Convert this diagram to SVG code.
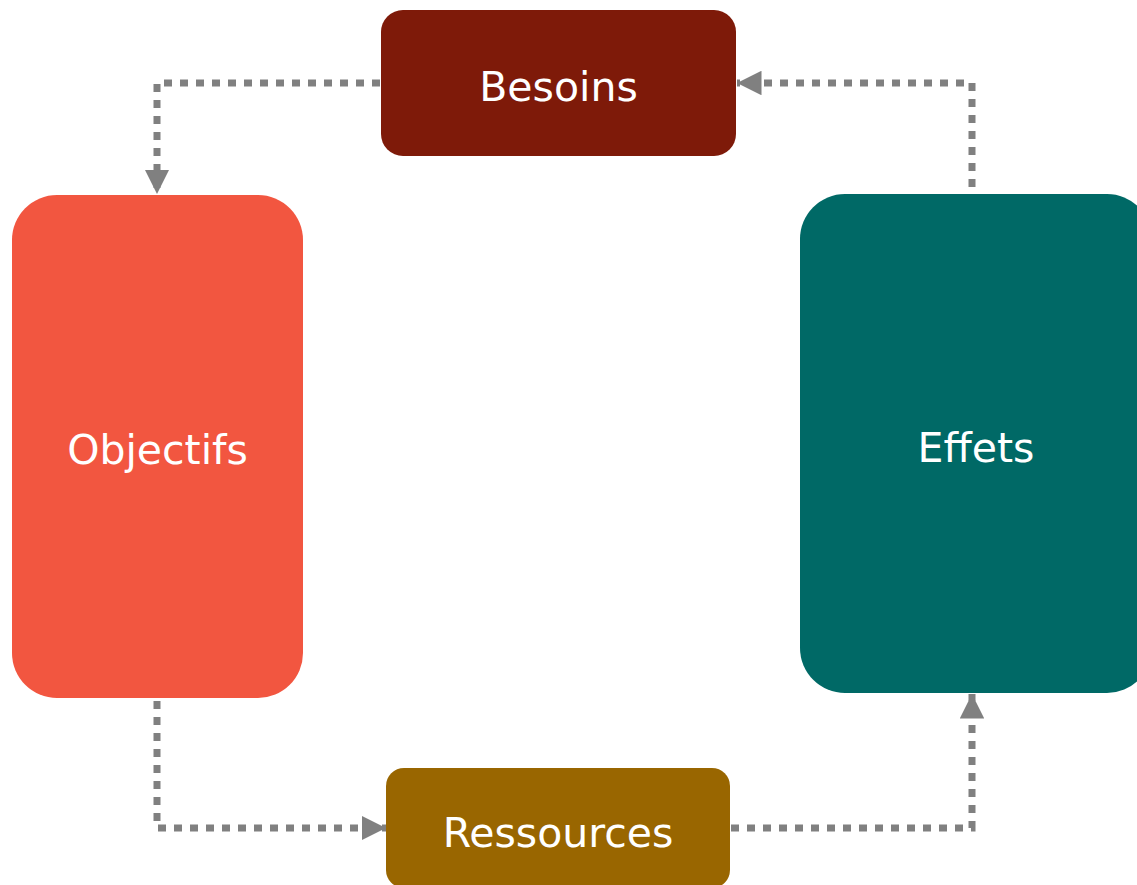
<svg xmlns="http://www.w3.org/2000/svg" width="1137" height="885" viewBox="0 0 1137 885">
<style>
.lbl{font-family:"DejaVu Sans",Verdana,sans-serif;font-size:41px;fill:#ffffff;text-anchor:middle}
.conn{fill:none;stroke:#808080;stroke-width:7;stroke-dasharray:8 8}
</style>
<defs>
<marker id="arr" markerWidth="3.5" markerHeight="3.5" refX="3.5" refY="1.75" orient="auto" markerUnits="strokeWidth">
<path d="M0,0 L3.5,1.75 L0,3.5 Z" fill="#808080"/>
</marker>
</defs>
<rect width="1137" height="885" fill="#ffffff"/>
<g id="connectors">
<path class="conn" d="M380,83 H157 V194" marker-end="url(#arr)"/>
<path class="conn" d="M972,187 V83 H737" marker-end="url(#arr)"/>
<path class="conn" d="M157,701 V828 H386" marker-end="url(#arr)"/>
<path class="conn" d="M731,828 H972 V694" marker-end="url(#arr)"/>
</g>
<g id="besoins">
<rect x="381" y="10" width="355" height="146" rx="22" fill="#7e1a09"/>
<text class="lbl" x="558.5" y="101">Besoins</text>
</g>
<g id="objectifs">
<rect x="12" y="195" width="291" height="503" rx="45" fill="#f25640"/>
<text class="lbl" x="157.5" y="464">Objectifs</text>
</g>
<g id="effets">
<rect x="800" y="194" width="352" height="499" rx="45" fill="#006966"/>
<text class="lbl" x="976" y="462">Effets</text>
</g>
<g id="ressources">
<rect x="386" y="768" width="344" height="120" rx="18" fill="#996600"/>
<text class="lbl" x="558" y="847">Ressources</text>
</g>
</svg>
